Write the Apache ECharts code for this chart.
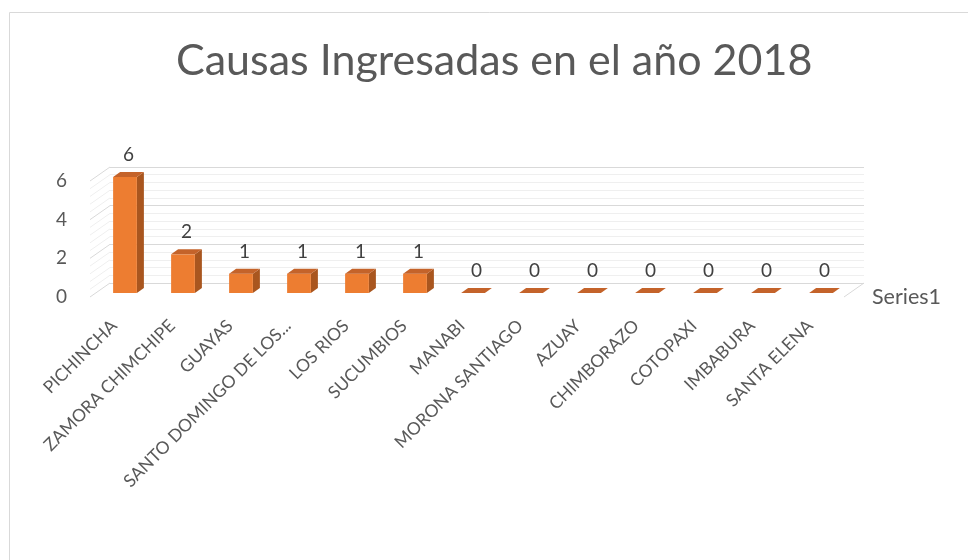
<!DOCTYPE html>
<html>
<head>
<meta charset="utf-8">
<script src="https://cdn.jsdelivr.net/npm/echarts@6/dist/echarts.min.js"></script>
<style>
  html, body { margin: 0; padding: 0; background: #fff; }
  #chart { width: 968px; height: 560px; }
</style>
</head>
<body>
<div id="chart"></div>
<script>
// 数据
const categories = ['PICHINCHA', 'ZAMORA CHIMCHIPE', 'GUAYAS', 'SANTO DOMINGO DE LOS...', 'LOS RIOS', 'SUCUMBIOS',
  'MANABI', 'MORONA SANTIAGO', 'AZUAY', 'CHIMBORAZO', 'COTOPAXI', 'IMBABURA', 'SANTA ELENA']
const values = [6, 2, 1, 1, 1, 1, 0, 0, 0, 0, 0, 0, 0]
const yTicks = [0, 2, 4, 6]
// 背景墙上的刻度线（主 + 次）
const wallLines = [0, 0.4, 0.8, 1.2, 1.6, 2, 2.4, 2.8, 3.2, 3.6, 4, 4.4, 4.8, 5.2, 5.6, 6]

const FONT = 'Lato'
const TEXT = '#595959'

// 3D 偏移
const FRONT = [6, -4]   // 柱子前面相对前平面
const DEPTH = [7, -5]   // 柱子厚度
const WALL = [-20, 14]  // 背墙到前平面

const chart = echarts.init(document.getElementById('chart'))

/**
 * 画一根立体柱
 */
const renderBar = (params, api) => {
  const idx = api.value(0)
  const v = api.value(1)
  const base = api.coord([idx, 0])
  const top = api.coord([idx, v])
  const bw = api.size([1, 0])[0] * 0.41
  const x0 = base[0] - bw / 2 + FRONT[0]
  const x1 = x0 + bw
  const yb = base[1] + FRONT[1]
  const yt = top[1] + FRONT[1]
  const [dx, dy] = DEPTH
  const children = [
    {
      type: 'polygon',
      shape: { points: [[x1, yb], [x1 + dx, yb + dy], [x1 + dx, yt + dy], [x1, yt]] },
      style: { fill: '#a9561f' }
    },
    {
      type: 'rect',
      shape: { x: x0, y: yt, width: bw, height: yb - yt },
      style: { fill: '#ed7d31' }
    },
    {
      type: 'polygon',
      shape: { points: [[x0, yt], [x1, yt], [x1 + dx, yt + dy], [x0 + dx, yt + dy]] },
      style: { fill: '#c4632a' }
    },
    {
      type: 'text',
      style: {
        text: String(v), x: (x0 + x1) / 2 + dx / 2, y: yt - 22,
        align: 'center', verticalAlign: 'middle',
        fill: '#404040', font: '19px ' + FONT
      }
    }
  ]
  return { type: 'group', children }
}

/**
 * 左墙与地板的斜线
 */
const renderWall = (params, api) => {
  const v = api.value(0)
  const p = api.coord([0, v])
  const major = v % 2 === 0
  const color = major ? '#d9d9d9' : '#efefef'
  const children = [{
    type: 'line',
    shape: { x1: p[0], y1: p[1], x2: p[0] + WALL[0], y2: p[1] + WALL[1] },
    style: { stroke: color, lineWidth: 1 }
  }]
  if (v === 0) {
    const q = api.coord([1, 0])
    children.push({
      type: 'line',
      shape: { x1: q[0], y1: q[1], x2: q[0] + WALL[0], y2: q[1] + WALL[1] },
      style: { stroke: '#d9d9d9', lineWidth: 1 }
    })
  }
  return { type: 'group', children }
}

chart.setOption({
  animation: false,
  title: {
    text: 'Causas Ingresadas en el año 2018',
    left: 171,
    top: 35,
    textStyle: { fontFamily: FONT, fontSize: 43, fontWeight: 'normal', color: '#595959' }
  },
  graphic: [{
    type: 'rect',
    shape: { x: 9.5, y: 12.5, width: 1000, height: 600 },
    style: { fill: 'none', stroke: '#d9d9d9', lineWidth: 1 },
    silent: true
  }],
  legend: {
    data: [{ name: 'Series1', icon: 'none' }],
    left: 862, top: 281, itemWidth: 0, itemGap: 0,
    textStyle: { fontFamily: FONT, fontSize: 21.5, color: TEXT },
    selectedMode: false
  },
  grid: [
    { left: 90, right: 124, top: 181, bottom: 263 },
    { left: 110, right: 104, top: 167, bottom: 277 }
  ],
  xAxis: [
    {
      type: 'category', gridIndex: 0, data: categories,
      axisLine: { show: false }, axisTick: { show: false },
      axisLabel: {
        interval: 0, rotate: 45, margin: 21, padding: [0, 7, 0, 0],
        color: TEXT, fontFamily: FONT, fontSize: 17.5
      }
    },
    { type: 'value', gridIndex: 1, min: 0, max: 1, show: false }
  ],
  yAxis: [
    {
      type: 'value', gridIndex: 0, min: yTicks[0], max: yTicks[yTicks.length - 1], interval: 2,
      axisLine: { show: false }, axisTick: { show: false }, splitLine: { show: false },
      axisLabel: { margin: 23, color: TEXT, fontFamily: FONT, fontSize: 19 }
    },
    {
      type: 'value', gridIndex: 1, min: 0, max: 6, interval: 2,
      axisLine: { show: false }, axisTick: { show: false }, axisLabel: { show: false },
      splitLine: { lineStyle: { color: '#d9d9d9', width: 1 } },
      minorTick: { show: false, splitNumber: 5 },
      minorSplitLine: { show: true, lineStyle: { color: '#efefef', width: 1 } }
    }
  ],
  series: [
    {
      type: 'custom', name: 'wall', xAxisIndex: 1, yAxisIndex: 1,
      data: wallLines.map(v => [v]), renderItem: renderWall, silent: true, z: 1
    },
    {
      type: 'custom', name: 'Series1', xAxisIndex: 0, yAxisIndex: 0,
      data: values.map((v, i) => [i, v]), renderItem: renderBar, z: 2,
      encode: { x: 0, y: 1 }
    }
  ]
})

window.addEventListener('resize', () => chart.resize())
</script>
</body>
</html>
